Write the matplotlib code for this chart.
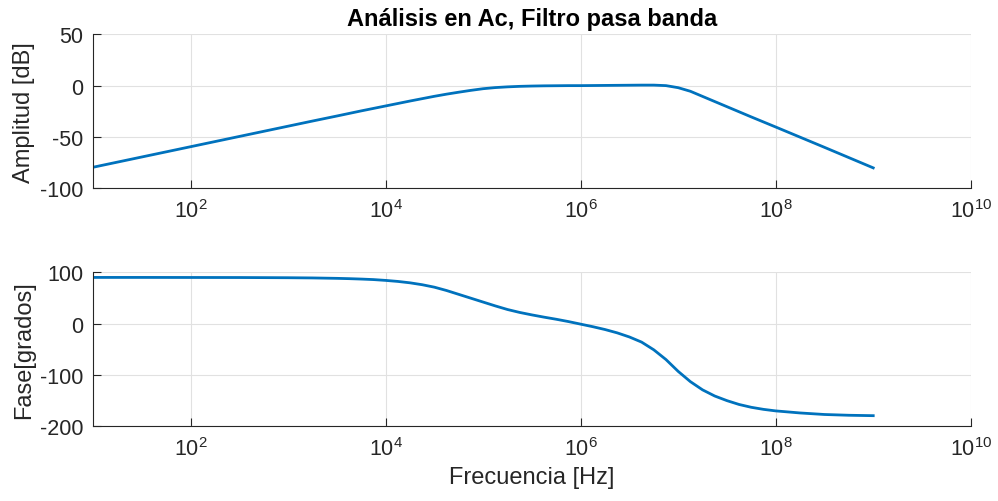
import matplotlib
matplotlib.use("Agg")
import matplotlib.pyplot as plt
from matplotlib.ticker import NullLocator

plt.rcParams["font.family"] = ["Liberation Sans", "DejaVu Sans"]
plt.rcParams["mathtext.fontset"] = "custom"
plt.rcParams["mathtext.rm"] = "Liberation Sans"
plt.rcParams["mathtext.it"] = "Liberation Sans:italic"
plt.rcParams["mathtext.bf"] = "Liberation Sans:bold"
plt.rcParams["axes.unicode_minus"] = False

# valores
frecuencia = [
    1e1, 3.162e1, 1e2, 3.162e2, 1e3, 1.778e3,
    3.162e3, 4.217e3, 5.623e3, 7.499e3,
    1e4, 1.334e4, 1.778e4, 2.371e4, 3.162e4, 4.217e4, 5.623e4, 7.499e4,
    1e5, 1.334e5, 1.778e5, 2.371e5, 3.162e5, 4.217e5, 5.623e5, 7.499e5,
    1e6, 1.334e6, 1.778e6, 2.371e6, 3.162e6, 4.217e6, 5.623e6, 7.499e6,
    1e7, 1.334e7, 1.778e7, 2.371e7, 3.162e7, 4.217e7, 5.623e7, 7.499e7,
    1e8, 1.778e8, 3.162e8, 5.623e8, 1e9,
]
amplitud_db = [
    -79.5, -69.5, -59.5, -49.5, -39.5, -34.5,
    -29.6, -27.1, -24.6, -22.2,
    -19.8, -17.4, -15.0, -12.7, -10.4, -8.3, -6.4, -4.6,
    -3.0, -1.9, -1.2, -0.7, -0.4, -0.2, -0.1, 0.0,
    0.0, 0.1, 0.2, 0.3, 0.4, 0.5, 0.5, 0.0,
    -2.0, -5.5, -10.5, -15.5, -20.5, -25.5, -30.5, -35.4,
    -40.3, -50.2, -60.1, -70.1, -80.1,
]
fase_grados = [
    90.0, 90.0, 89.9, 89.8, 89.4, 89.0,
    88.2, 87.6, 86.8, 85.8,
    84.2, 82.2, 79.5, 75.8, 71.0, 64.5, 57.0, 49.5,
    42.0, 34.5, 27.5, 21.8, 17.0, 12.6, 8.5, 4.0,
    -1.0, -6.0, -11.5, -18.0, -26.0, -36.0, -51.0, -70.0,
    -93.0, -113.0, -129.0, -141.0, -150.0, -157.5, -163.0, -167.0,
    -170.0, -174.0, -177.0, -178.5, -179.3,
]

x_ticks = [1e2, 1e4, 1e6, 1e8, 1e10]
amp_ticks = [-100, -50, 0, 50]
fase_ticks = [-200, -100, 0, 100]

line_color = "#0072BD"
text_color = "#262626"


def style_axes(ax, yticks):
    ax.set_xscale("log")
    ax.set_xlim(1e1, 1e10)
    ax.set_ylim(yticks[0], yticks[-1])
    ax.set_xticks(x_ticks)
    ax.set_yticks(yticks)
    ax.xaxis.set_minor_locator(NullLocator())
    ax.grid(True, color="#e1e1e1", linewidth=0.8)
    ax.set_axisbelow(True)
    for side in ("top", "right"):
        ax.spines[side].set_visible(False)
    for side in ("left", "bottom"):
        ax.spines[side].set_color(text_color)
        ax.spines[side].set_linewidth(0.8)
    ax.tick_params(direction="in", length=5.5, width=0.8, colors=text_color,
                   labelsize=15.5, labelcolor=text_color)
    ax.tick_params(axis="x", pad=8)
    ax.tick_params(axis="y", pad=7)


fig = plt.figure(figsize=(9.98, 5.02), dpi=100)
ax1 = fig.add_axes([0.0932, 0.6229, 0.8795, 0.3068])
ax2 = fig.add_axes([0.0932, 0.1488, 0.8795, 0.3068])

ax1.plot(frecuencia, amplitud_db, color=line_color, linewidth=2.0)
style_axes(ax1, amp_ticks)
ax1.set_ylabel("Amplitud [dB]", fontsize=17, color=text_color)
ax1.yaxis.set_label_coords(-0.066, 0.5)
ax1.set_title("Análisis en Ac, Filtro pasa banda", fontsize=17,
              fontweight="bold", pad=7)

ax2.plot(frecuencia, fase_grados, color=line_color, linewidth=2.0)
style_axes(ax2, fase_ticks)
ax2.set_ylabel("Fase[grados]", fontsize=17, color=text_color)
ax2.yaxis.set_label_coords(-0.066, 0.5)
ax2.set_xlabel("Frecuencia [Hz]", fontsize=17, color=text_color, labelpad=4)

fig.savefig("out.png", dpi=100)
